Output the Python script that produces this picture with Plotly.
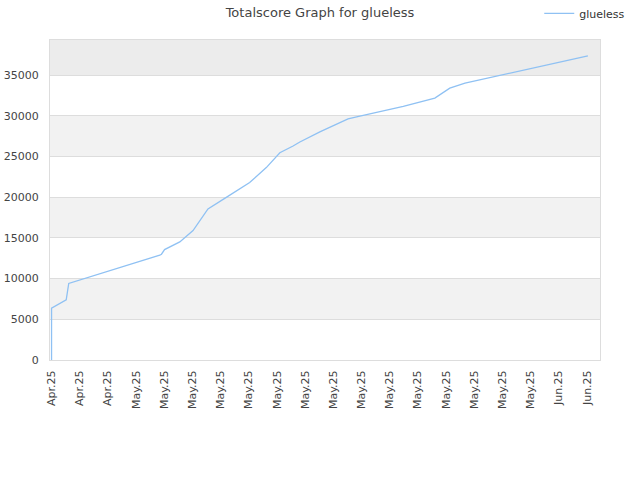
import plotly.graph_objects as go

# Data (x in tick-step units, y total score)
t_pos = [0.0, 0.0, 0.0, 0.52, 0.57, 0.61, 3.84, 3.90, 4.01, 4.55, 5.02, 5.55,
         6.20, 7.03, 7.62, 8.10, 8.57, 8.81, 9.52, 10.52, 10.94, 12.48, 13.60,
         14.13, 14.67, 19.03]
score = [0, 2900, 6370, 7380, 8600, 9400, 12870, 12990, 13560, 14500, 15900, 18560,
         19970, 21800, 23630, 25460, 26280, 26770, 28020, 29610, 29940, 31160, 32170,
         33390, 34000, 37340]

tick_labels = ["Apr.25", "Apr.25", "Apr.25", "May.25", "May.25", "May.25", "May.25",
               "May.25", "May.25", "May.25", "May.25", "May.25", "May.25", "May.25",
               "May.25", "May.25", "May.25", "May.25", "Jun.25", "Jun.25"]
y_ticks = [0, 5000, 10000, 15000, 20000, 25000, 30000, 35000]
y_top = 39300

fig = go.Figure()
fig.add_trace(go.Scatter(x=t_pos, y=score, mode="lines", name="glueless",
                         line=dict(color="#8fc1f3", width=1.3)))

# alternating bands
bands = [(5000, 10000, "#f2f2f2"), (15000, 20000, "#f2f2f2"),
         (25000, 30000, "#f2f2f2"), (35000, y_top, "#ececec")]
for y0, y1, c in bands:
    fig.add_shape(type="rect", xref="paper", yref="y", x0=0, x1=1, y0=y0, y1=y1,
                  fillcolor=c, line_width=0, layer="below")

fig.update_layout(
    width=640, height=480,
    margin=dict(l=50, r=40, t=40, b=120, autoexpand=False),
    paper_bgcolor="white", plot_bgcolor="white",
    font=dict(family="DejaVu Sans", size=11, color="#444"),
    title=dict(text="Totalscore Graph for glueless", x=0.5, xanchor="center",
               y=0.975, yanchor="middle", font=dict(size=13, color="#444")),
    showlegend=True,
    legend=dict(x=1.055, y=1.083, xanchor="right", yanchor="middle", orientation="h",
                font=dict(size=11, color="#333"), bgcolor="rgba(0,0,0,0)",
                borderwidth=0),
    xaxis=dict(range=[-0.055, 19.46], tickmode="array", automargin=False,
               tickvals=list(range(len(tick_labels))), ticktext=tick_labels,
               tickangle=-90, showgrid=False, zeroline=False, showline=True,
               linecolor="#dddddd", linewidth=1, mirror=True,
               ticks="outside", ticklen=5, tickcolor="rgba(0,0,0,0)",
               tickfont=dict(size=11, color="#444")),
    yaxis=dict(range=[0, y_top], tickmode="array", tickvals=y_ticks, automargin=False,
               ticktext=[str(v) for v in y_ticks],
               showgrid=True, gridcolor="#dddddd", gridwidth=1, zeroline=False,
               showline=True, linecolor="#dddddd", linewidth=1, mirror=True,
               ticks="outside", ticklen=8, tickcolor="rgba(0,0,0,0)",
               tickfont=dict(size=11, color="#444")),
)

fig.write_html("out.html", config={"displayModeBar": False},
               post_script="document.body.style.margin='0';")
